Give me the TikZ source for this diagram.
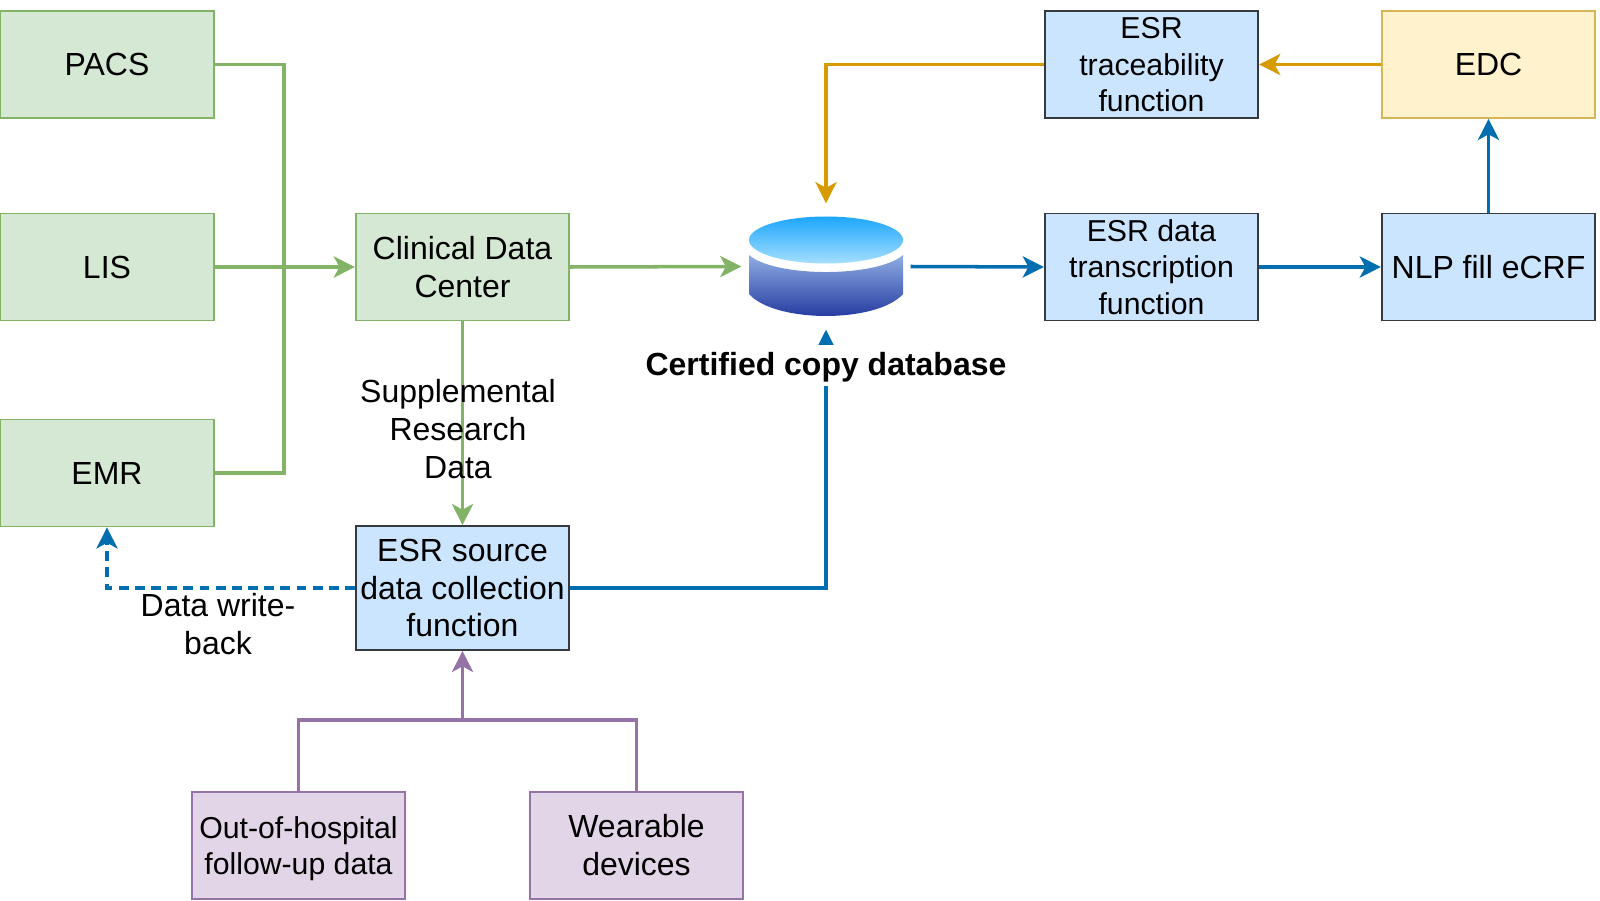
\documentclass[tikz,border=0pt]{standalone}
\usepackage{xcolor}
\usepackage{fontspec}
\setmainfont{Liberation Sans}
\usetikzlibrary{arrows.meta}
\definecolor{greenfill}{HTML}{D5E8D4}
\definecolor{greenline}{HTML}{82B366}
\definecolor{bluefill}{HTML}{CCE5FF}
\definecolor{blueedge}{HTML}{36393D}
\definecolor{blueline}{HTML}{006EAF}
\definecolor{purplefill}{HTML}{E1D5E7}
\definecolor{purpleline}{HTML}{9673A6}
\definecolor{yellowfill}{HTML}{FFF2CC}
\definecolor{yellowedge}{HTML}{D6B656}
\definecolor{yellowline}{HTML}{D79B00}
\definecolor{drumtop}{HTML}{1EA6FB}
\definecolor{drumtopend}{HTML}{A5DFFF}
\definecolor{drumside}{HTML}{8FADE3}
\definecolor{drumsideend}{HTML}{1A2F9A}
\tikzset{
  box/.style={draw,line width=0.5pt,minimum width=2.135cm,minimum height=1.07cm,inner sep=0pt,align=center},
  greenbox/.style={box,draw=greenline,fill=greenfill},
  bluebox/.style={box,draw=blueedge,fill=bluefill},
  purplebox/.style={box,draw=purpleline,fill=purplefill},
  yellowbox/.style={box,draw=yellowedge,fill=yellowfill},
  small/.style={font=\fontsize{8.6}{10.4}\selectfont},
  link/.style={line width=1pt,-{Stealth[length=6pt,width=6pt,inset=1.6pt]}},
  greenlink/.style={link,greenline},
  bluelink/.style={link,blueline},
  purplelink/.style={link,purpleline},
  yellowlink/.style={link,yellowline},
  every node/.style={font=\fontsize{9.1}{10.8}\selectfont},
}
\begin{document}
\begin{tikzpicture}
    \useasboundingbox (0,0) rectangle (16,9);
    \node[greenbox] (pacs) at (1.07,8.355) {PACS};
    \node[greenbox] (lis) at (1.07,6.33) {LIS};
    \node[greenbox] (emr) at (1.07,4.27) {EMR};
    \node[greenbox] (cdc) at (4.625,6.33) {Clinical Data\\Center};
    \node[bluebox,minimum height=1.24cm] (src) at (4.625,3.12) {ESR source\\data collection\\function};
    \node[purplebox,small,text depth=0pt] (ooh) at (2.985,0.545) {Out-of-hospital\\follow-up data};
    \node[purplebox] (wear) at (6.365,0.545) {Wearable\\devices};
    \node[bluebox,small,text depth=-0.8pt] (trace) at (11.515,8.355) {ESR\\traceability\\function};
    \node[bluebox,small] (trans) at (11.515,6.33) {ESR data\\transcription\\function};
    \node[yellowbox] (edc) at (14.885,8.355) {EDC};
    \node[bluebox] (nlp) at (14.885,6.33) {NLP fill eCRF};
    \node[minimum width=1.68cm,minimum height=1.25cm,inner sep=0pt] (db) at (8.26,6.335) {};
    \coordinate (jct) at (2.84,6.33);
    \coordinate (wb) at (1.07,3.12);
    \coordinate (fork) at (4.625,1.8);
    % database drum
    \shade[top color=drumside,bottom color=drumsideend]
      (7.49,6.45) .. controls (7.75,6.223) and (8.77,6.223) .. (9.03,6.45)
      -- (9.03,6.06) .. controls (8.77,5.767) and (7.75,5.767) .. (7.49,6.06) -- cycle;
    \shade[top color=drumtop,bottom color=drumtopend] (8.26,6.60) ellipse[x radius=0.77,y radius=0.235];
    % connectors
    \draw[greenlink] (lis.east) -- (cdc.west);
    \draw[greenline,line width=1pt] (pacs.east) -| (jct);
    \draw[greenline,line width=1pt] (emr.east) -| (jct);
    \draw[greenlink] (cdc.east) -- (db.west);
    \draw[greenlink] (cdc.south) -- (src.north);
    \draw[yellowlink] (edc.west) -- (trace.east);
    \draw[yellowlink] (trace.west) -| (db.north);
    \draw[bluelink] (db.east) -- (trans.west);
    \draw[bluelink] (trans.east) -- (nlp.west);
    \draw[bluelink] (nlp.north) -- (edc.south);
    \draw[bluelink] (src.east) -| (db.south);
    \draw[bluelink,dash pattern=on 2.8pt off 1.8pt] (src.west) -- (wb) -- (emr.south);
    \draw[purpleline,line width=1pt] (ooh.north) |- (fork);
    \draw[purpleline,line width=1pt] (wear.north) |- (fork);
    \draw[purplelink] (fork) -- (src.south);
    % labels
    \node[fill=white,inner xsep=2pt,inner ysep=1pt,text height=7.6pt,font=\fontsize{9.1}{10.8}\selectfont\bfseries] (dblabel) at (8.26,5.345) {Certified copy database};
    \node[align=center] (suppl) at (4.58,4.71) {Supplemental\\Research\\Data};
    \node[align=center] (wblabel) at (2.18,2.76) {Data write-\\back};
\end{tikzpicture}
\end{document}
